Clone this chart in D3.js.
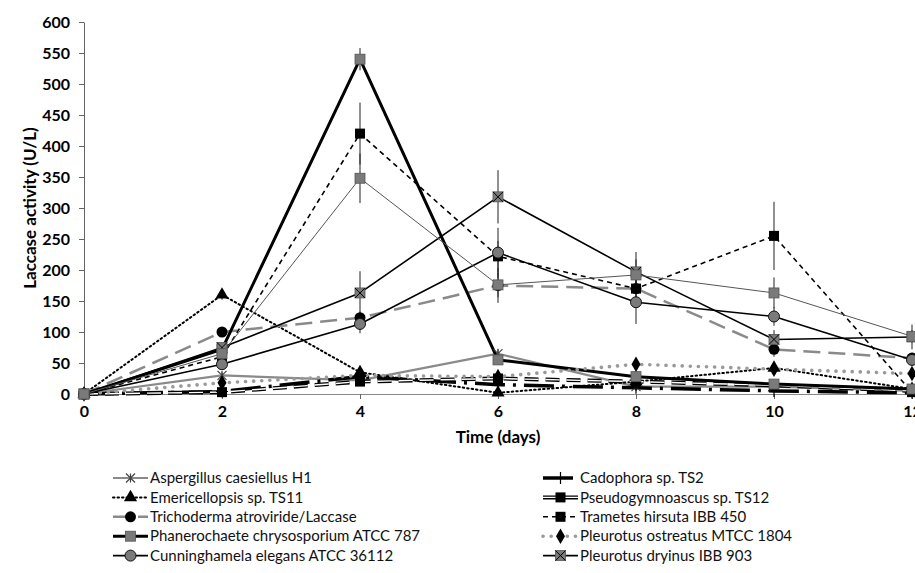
<!DOCTYPE html>
<html>
<head>
<meta charset="utf-8">
<script src="https://cdn.jsdelivr.net/npm/d3@7"></script>
<style>
  body { margin: 0; background: #fff; }
  text { font-family: Lato, "Open Sans", sans-serif; }
</style>
</head>
<body>
<div id="chart"></div>
<script>
// Time points and axis ticks
var days = [0, 2, 4, 6, 8, 10, 12];
var yTicks = [0, 50, 100, 150, 200, 250, 300, 350, 400, 450, 500, 550, 600];

// Laccase activity (U/L) per strain
var aspergillus      = [0, 30, 22, 65, 12, 12, 5];
var cadophora        = [0, 4, 28, 15, 10, 5, 2];
var emericellopsis   = [0, 160, 35, 2, 20, 42, 8];
var pseudogymnoascus = [0, 3, 20, 25, 20, 14, 5];
var trichoderma      = [0, 100, 123, 175, 170, 72, 58];
var trametes         = [0, 60, 420, 222, 170, 255, 3];
var phanerochaete    = [0, 72, 540, 55, 28, 16, 8];
var ostreatus        = [0, 18, 30, 28, 48, 40, 33];
var cunninghamela    = [0, 48, 113, 228, 148, 125, 55];
var dryinus          = [0, 75, 163, 318, 197, 88, 92];
var extraLine        = [0, 65, 348, 176, 192, 163, 93];

// error bars (+/-)
var errAspergillus   = [0, 5, 5, 8, 5, 4, 2];
var errCadophora     = [0, 3, 5, 4, 3, 2, 1];
var errEmericellopsis= [0, 8, 6, 3, 4, 6, 3];
var errPseudo        = [0, 2, 4, 5, 4, 3, 2];
var errTrichoderma   = [0, 8, 10, 28, 20, 12, 6];
var errTrametes      = [0, 8, 50, 25, 20, 55, 3];
var errPhanero       = [0, 6, 18, 8, 5, 4, 3];
var errOstreatus     = [0, 3, 4, 5, 6, 5, 4];
var errCunning       = [0, 6, 15, 40, 35, 15, 10];
var errDryinus       = [0, 6, 35, 43, 32, 15, 20];
var errExtra         = [0, 6, 40, 20, 25, 25, 10];

var names = ["Aspergillus caesiellus H1", "Cadophora sp. TS2", "Emericellopsis sp. TS11",
  "Pseudogymnoascus sp. TS12", "Trichoderma atroviride/Laccase", "Trametes hirsuta IBB 450",
  "Phanerochaete chrysosporium ATCC 787", "Pleurotus ostreatus MTCC 1804",
  "Cunninghamela elegans ATCC 36112", "Pleurotus dryinus IBB 903"];

// drawing styles (drawing order = excel series order)
var series = [
  {name: names[0], v: aspergillus, e: errAspergillus, stroke: "#8a8a8a", w: 2.2, dash: null, marker: "asterisk", col: 0, row: 0},
  {name: names[1], v: cadophora, e: errCadophora, stroke: "#000", w: 3.5, dash: "30,8,3,8", marker: "plus", col: 1, row: 0},
  {name: names[2], v: emericellopsis, e: errEmericellopsis, stroke: "#000", w: 2, dash: "1.5,3", cap: "round", marker: "triangle", col: 0, row: 1},
  {name: names[3], v: pseudogymnoascus, e: errPseudo, stroke: "#000", w: 4, dash: "14,7", dbl: true, marker: "bsquare", col: 1, row: 1},
  {name: names[4], v: trichoderma, e: errTrichoderma, stroke: "#8a8a8a", w: 2.5, dash: "17,8", marker: "bcircle", col: 0, row: 2},
  {name: names[5], v: trametes, e: errTrametes, stroke: "#000", w: 1.6, dash: "5,4", marker: "bsquare", col: 1, row: 2},
  {name: names[6], v: phanerochaete, e: errPhanero, stroke: "#000", w: 3, dash: null, marker: "gsquare", col: 0, row: 3},
  {name: names[7], v: ostreatus, e: errOstreatus, stroke: "#9a9a9a", w: 3.6, dash: "0.1,8", cap: "round", marker: "diamond", col: 1, row: 3},
  {name: names[8], v: cunninghamela, e: errCunning, stroke: "#000", w: 1.6, dash: null, marker: "gcircle", col: 0, row: 4},
  {name: names[9], v: dryinus, e: errDryinus, stroke: "#000", w: 1.6, dash: null, marker: "xsquare", col: 1, row: 4},
  {name: null, v: extraLine, e: errExtra, stroke: "#555", w: 1, dash: null, marker: "gsquare"}
];

var W = 915, H = 573;
var svg = d3.select("#chart").append("svg")
  .attr("width", W).attr("height", H);

var x = d3.scaleLinear().domain([0, 12]).range([84, 912]);
var y = d3.scaleLinear().domain([0, 600]).range([394, 22]);

// axes
var yAxis = svg.append("g")
  .attr("transform", "translate(84,0)")
  .call(d3.axisLeft(y).tickValues(yTicks).tickSize(5).tickSizeOuter(0).tickPadding(9));
yAxis.select(".domain").attr("stroke", "#666");
yAxis.selectAll(".tick line").attr("stroke", "#666");
yAxis.selectAll("text").attr("font-size", "16px").attr("font-weight", 700).attr("fill", "#000");

var xAxis = svg.append("g")
  .attr("transform", "translate(0,394)")
  .call(d3.axisBottom(x).tickValues(days).tickSize(5).tickSizeOuter(0).tickPadding(7));
xAxis.select(".domain").attr("stroke", "#888");
xAxis.selectAll(".tick line").attr("stroke", "#666");
xAxis.selectAll("text").attr("font-size", "16px").attr("font-weight", 700).attr("fill", "#000");

// axis titles
svg.append("text")
  .attr("transform", "translate(36,208) rotate(-90)")
  .attr("text-anchor", "middle")
  .attr("font-size", "17px").attr("font-weight", 700)
  .text("Laccase activity (U/L)");
svg.append("text")
  .attr("x", 498).attr("y", 443)
  .attr("text-anchor", "middle")
  .attr("font-size", "17px").attr("font-weight", 700)
  .text("Time (days)");

// markers
function drawMarker(g, type) {
  if (type === "asterisk") {
    var s = 4.5;
    g.append("path").attr("d", "M0," + (-s) + "V" + s + "M" + (-s) + "," + (-s) + "L" + s + "," + s + "M" + (-s) + "," + s + "L" + s + "," + (-s))
      .attr("stroke", "#444").attr("stroke-width", 1.2).attr("fill", "none");
  } else if (type === "plus") {
    g.append("path").attr("d", "M0,-6V6M-6,0H6").attr("stroke", "#000").attr("stroke-width", 1.2);
  } else if (type === "triangle") {
    g.append("path").attr("d", d3.symbol(d3.symbolTriangle, 75)).attr("fill", "#000");
  } else if (type === "diamond") {
    g.append("path").attr("d", d3.symbol(d3.symbolDiamond, 70)).attr("fill", "#000");
  } else if (type === "bsquare") {
    g.append("rect").attr("x", -5).attr("y", -5).attr("width", 10).attr("height", 10).attr("fill", "#000");
  } else if (type === "gsquare") {
    g.append("rect").attr("x", -5).attr("y", -5).attr("width", 10).attr("height", 10)
      .attr("fill", "#7a7a7a").attr("stroke", "#555").attr("stroke-width", 0.8);
  } else if (type === "xsquare") {
    g.append("rect").attr("x", -5).attr("y", -5).attr("width", 10).attr("height", 10)
      .attr("fill", "#7a7a7a").attr("stroke", "#555").attr("stroke-width", 0.8);
    g.append("path").attr("d", "M-5,-5L5,5M-5,5L5,-5").attr("stroke", "#000").attr("stroke-width", 1);
  } else if (type === "bcircle") {
    g.append("circle").attr("r", 5.5).attr("fill", "#000");
  } else if (type === "gcircle") {
    g.append("circle").attr("r", 5.5).attr("fill", "#7a7a7a").attr("stroke", "#111").attr("stroke-width", 1);
  }
}

function styleLine(p, s) {
  p.attr("fill", "none").attr("stroke", s.stroke).attr("stroke-width", s.w)
    .attr("stroke-linejoin", "round")
    .attr("stroke-linecap", s.cap || "butt");
  if (s.dash) p.attr("stroke-dasharray", s.dash);
}

var line = d3.line().x(function(d, i) { return x(days[i]); }).y(function(d) { return y(d); });

// error bars first
var errG = svg.append("g");
series.forEach(function(s) {
  errG.selectAll(null).data(s.v).enter().append("line")
    .attr("x1", function(d, i) { return x(days[i]); })
    .attr("x2", function(d, i) { return x(days[i]); })
    .attr("y1", function(d, i) { return y(d + s.e[i]); })
    .attr("y2", function(d, i) { return y(Math.max(0, d - s.e[i])); })
    .attr("stroke", "#222").attr("stroke-width", 1);
});

// lines
var plot = svg.append("g");
series.forEach(function(s) {
  var p = plot.append("path").datum(s.v).attr("d", line);
  styleLine(p, s);
  if (s.dbl) {
    plot.append("path").datum(s.v).attr("d", line)
      .attr("fill", "none").attr("stroke", "#fff").attr("stroke-width", 1.4)
      .attr("stroke-dasharray", s.dash);
  }
});

// markers
series.forEach(function(s) {
  s.v.forEach(function(d, i) {
    var g = plot.append("g").attr("transform", "translate(" + x(days[i]) + "," + y(d) + ")");
    drawMarker(g, s.marker);
  });
});

// legend
var legX = [113, 543], legY = 478, legStep = 19.4, sampleW = 35;
var leg = svg.append("g");
series.filter(function(s) { return s.name; }).forEach(function(s) {
  var lx = legX[s.col], ly = legY + s.row * legStep;
  var p = leg.append("path").attr("d", "M" + lx + "," + ly + "H" + (lx + sampleW));
  styleLine(p, s);
  if (s.dbl) {
    leg.append("path").attr("d", "M" + lx + "," + ly + "H" + (lx + sampleW))
      .attr("stroke", "#fff").attr("stroke-width", 1.4).attr("stroke-dasharray", s.dash);
  }
  drawMarker(leg.append("g").attr("transform", "translate(" + (lx + sampleW / 2) + "," + ly + ")"), s.marker);
  leg.append("text").attr("x", lx + sampleW + 2).attr("y", ly).attr("dy", "0.35em")
    .attr("font-size", "15px").attr("fill", "#111").text(s.name);
});
</script>
</body>
</html>
